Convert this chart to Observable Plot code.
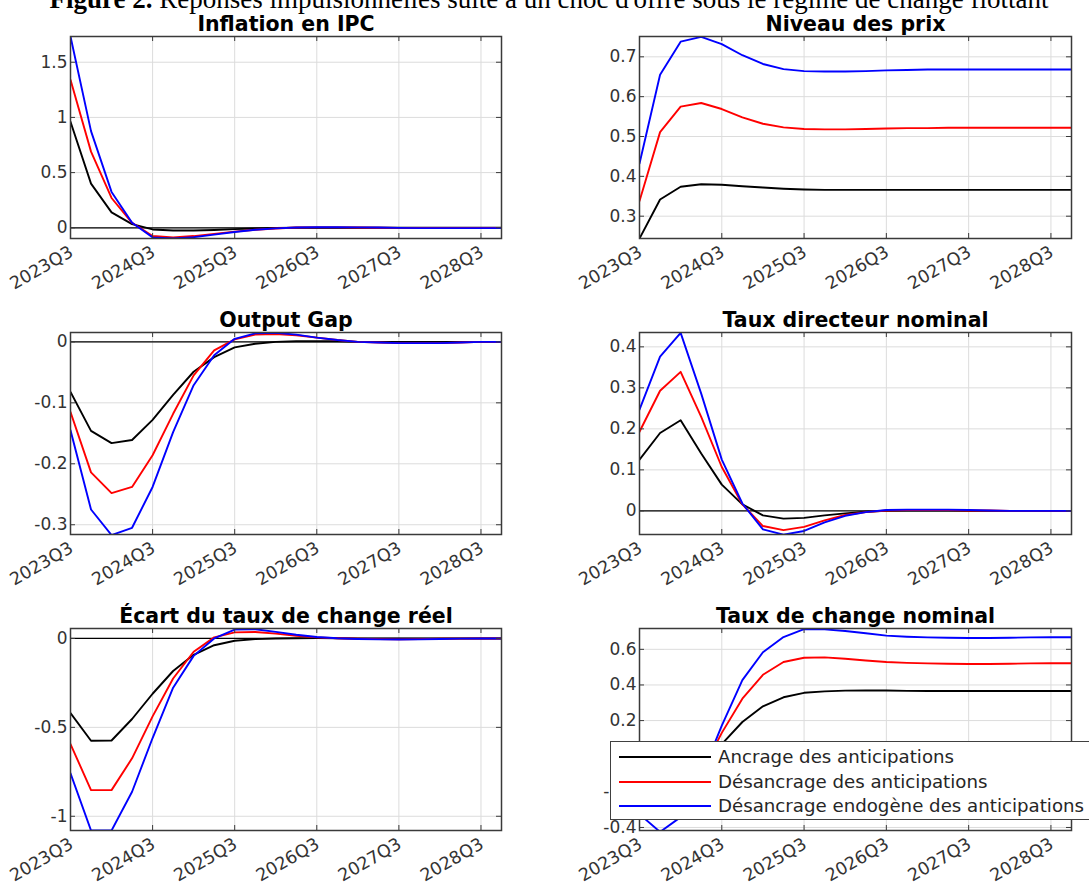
<!DOCTYPE html>
<html>
<head>
<meta charset="utf-8">
<script src="https://cdn.jsdelivr.net/npm/d3@7"></script>
<script src="https://cdn.jsdelivr.net/npm/@observablehq/plot@0.6"></script>
<style>
  html, body { margin: 0; padding: 0; background: #fff; }
  #root { position: relative; width: 1089px; height: 886px; overflow: hidden; background: #fff; }
  .panel { position: absolute; }
  #legend { position: absolute; left: 610px; top: 741px; width: 520px; height: 79px; border: 1.5px solid #404040; background: #fff; box-sizing: border-box; font-family: "DejaVu Sans", sans-serif; font-size: 18.2px; color: #262626; }
  #legend .row { position: absolute; left: 0; height: 24px; line-height: 24px; white-space: nowrap; }
  #legend .sw { position: absolute; left: 8px; top: 11px; width: 92px; height: 0; border-top: 2px solid; }
  #legend .lb { position: absolute; left: 107px; top: 0; }
</style>
</head>
<body>
<div id="root">
  <svg id="maintitle" width="1089" height="16" style="position:absolute;left:0;top:0">
    <text id="mt" x="549" y="7.5" text-anchor="middle" font-family="Liberation Serif" font-size="27" fill="#000"><tspan font-weight="bold">Figure 2.</tspan> Réponses impulsionnelles suite à un choc d'offre sous le régime de change flottant</text>
  </svg>
</div>
<script>
// ---------------- data ----------------
const quarters = ["2023Q3","2023Q4","2024Q1","2024Q2","2024Q3","2024Q4","2025Q1","2025Q2","2025Q3","2025Q4","2026Q1","2026Q2","2026Q3","2026Q4","2027Q1","2027Q2","2027Q3","2027Q4","2028Q1","2028Q2","2028Q3","2028Q4"];
const xTickLabels = ["2023Q3","2024Q3","2025Q3","2026Q3","2027Q3","2028Q3"];

const seriesNames = ["Ancrage des anticipations", "Désancrage des anticipations", "Désancrage endogène des anticipations"];
const seriesColors = ["#000000", "#ff0000", "#0000ff"];

// Inflation en IPC
const inflAncrage   = [0.96, 0.40, 0.14, 0.033, -0.015, -0.025, -0.025, -0.02, -0.012, -0.006, -0.002, 0, 0.001, 0.001, 0.001, 0, 0, 0, 0, 0, 0, 0];
const inflDesanc    = [1.34, 0.69, 0.27, 0.045, -0.075, -0.087, -0.075, -0.055, -0.035, -0.018, -0.006, 0.002, 0.004, 0.004, 0.003, 0.001, -0.001, -0.002, -0.002, -0.002, -0.002, -0.002];
const inflEndog     = [1.733, 0.876, 0.325, 0.045, -0.087, -0.097, -0.085, -0.062, -0.038, -0.018, -0.005, 0.003, 0.005, 0.005, 0.004, 0.002, -0.001, -0.003, -0.003, -0.003, -0.003, -0.003];

// Niveau des prix
const prixAncrage   = [0.244, 0.342, 0.374, 0.380, 0.379, 0.375, 0.372, 0.369, 0.367, 0.366, 0.366, 0.366, 0.366, 0.366, 0.366, 0.366, 0.366, 0.366, 0.366, 0.366, 0.366, 0.366];
const prixDesanc    = [0.338, 0.511, 0.575, 0.584, 0.569, 0.548, 0.532, 0.523, 0.519, 0.518, 0.518, 0.519, 0.520, 0.521, 0.521, 0.522, 0.522, 0.522, 0.522, 0.522, 0.522, 0.522];
const prixEndog     = [0.432, 0.655, 0.738, 0.750, 0.732, 0.704, 0.682, 0.669, 0.664, 0.663, 0.663, 0.664, 0.666, 0.667, 0.668, 0.668, 0.668, 0.668, 0.668, 0.668, 0.668, 0.668];

// Output Gap
const gapAncrage    = [-0.082, -0.146, -0.166, -0.161, -0.128, -0.087, -0.049, -0.025, -0.009, -0.003, 0.000, 0.001, 0.001, 0.001, 0.000, 0, 0, 0, 0, 0, 0, 0];
const gapDesanc     = [-0.115, -0.214, -0.248, -0.238, -0.186, -0.118, -0.055, -0.014, 0.004, 0.012, 0.013, 0.011, 0.007, 0.003, 0.000, -0.001, -0.002, -0.002, -0.002, -0.001, 0, 0];
const gapEndog      = [-0.145, -0.275, -0.317, -0.305, -0.238, -0.148, -0.071, -0.022, 0.005, 0.014, 0.015, 0.012, 0.007, 0.003, 0.000, -0.001, -0.002, -0.002, -0.002, -0.001, 0, 0];

// Taux directeur nominal
const tauxAncrage   = [0.125, 0.190, 0.221, 0.140, 0.064, 0.016, -0.011, -0.019, -0.017, -0.011, -0.006, -0.002, 0.000, 0.001, 0.001, 0.001, 0, 0, 0, 0, 0, 0];
const tauxDesanc    = [0.193, 0.293, 0.339, 0.229, 0.107, 0.016, -0.037, -0.047, -0.039, -0.023, -0.010, -0.003, 0.001, 0.002, 0.002, 0.002, 0.001, 0.001, 0, 0, 0, 0];
const tauxEndog     = [0.247, 0.376, 0.434, 0.286, 0.125, 0.018, -0.045, -0.058, -0.049, -0.028, -0.012, -0.003, 0.002, 0.003, 0.003, 0.003, 0.002, 0.001, 0, 0, 0, 0];

// Écart du taux de change réel
const reelAncrage   = [-0.419, -0.575, -0.574, -0.453, -0.311, -0.183, -0.092, -0.038, -0.013, -0.004, 0.000, 0.001, 0.002, 0.001, 0, 0, 0, 0, 0, 0, 0, 0];
const reelDesanc    = [-0.594, -0.853, -0.853, -0.674, -0.438, -0.225, -0.075, 0.006, 0.034, 0.036, 0.027, 0.015, 0.006, 0.001, -0.002, -0.004, -0.005, -0.004, -0.002, -0.001, 0, 0];
const reelEndog     = [-0.758, -1.08, -1.08, -0.862, -0.560, -0.277, -0.098, 0.000, 0.050, 0.052, 0.037, 0.021, 0.008, 0.001, -0.003, -0.005, -0.006, -0.005, -0.003, -0.001, 0, 0];

// Taux de change nominal
const nomAncrage    = [-0.175, -0.233, -0.201, -0.073, 0.068, 0.192, 0.280, 0.331, 0.356, 0.364, 0.368, 0.369, 0.369, 0.367, 0.366, 0.366, 0.366, 0.366, 0.366, 0.366, 0.366, 0.366];
const nomDesanc     = [-0.257, -0.342, -0.278, -0.090, 0.131, 0.323, 0.457, 0.529, 0.553, 0.555, 0.547, 0.537, 0.529, 0.524, 0.521, 0.519, 0.518, 0.518, 0.519, 0.521, 0.522, 0.522];
const nomEndog      = [-0.326, -0.425, -0.342, -0.112, 0.172, 0.427, 0.584, 0.669, 0.713, 0.712, 0.703, 0.690, 0.677, 0.671, 0.667, 0.665, 0.664, 0.664, 0.665, 0.667, 0.668, 0.668];

// axis settings
const xDomain = [0, 21];
const inflYDomain = [-0.097, 1.733], inflYTicks = [0, 0.5, 1, 1.5];
const prixYDomain = [0.244, 0.751],  prixYTicks = [0.3, 0.4, 0.5, 0.6, 0.7];
const gapYDomain  = [-0.316, 0.0154], gapYTicks = [-0.3, -0.2, -0.1, 0];
const tauxYDomain = [-0.0576, 0.435], tauxYTicks = [0, 0.1, 0.2, 0.3, 0.4];
const reelYDomain = [-1.08, 0.056],   reelYTicks = [-1, -0.5, 0];
const nomYDomain  = [-0.417, 0.717],  nomYTicks = [-0.4, -0.2, 0, 0.2, 0.4, 0.6];

// ---------------- drawing ----------------
const xTickIdx = xTickLabels.map(l => quarters.indexOf(l));
const root = document.getElementById("root");

function panel(title, values, yDomain, yTicks, col, row) {
  const W = col === 0 ? 545 : 544;
  const mL = col === 0 ? 70 : 94, mR = col === 0 ? 44 : 18;
  const mT = 36, mB = 58, H = 296;
  const fw = W - mL - mR, fh = H - mT - mB;
  const axisColor = "#3a3a3a";
  const marks = [
    Plot.gridX(xTickIdx, {stroke: "#dcdcdc", strokeOpacity: 1}),
    Plot.gridY(yTicks, {stroke: "#dcdcdc", strokeOpacity: 1})
  ];
  if (yDomain[0] < 0 && yDomain[1] > 0) marks.push(Plot.ruleY([0], {stroke: "#000", strokeWidth: 1.2}));
  values.forEach((v, k) => {
    marks.push(Plot.lineY(v, {x: (d, i) => i, y: d => d, stroke: seriesColors[k], strokeWidth: 1.9, clip: true}));
  });
  marks.push(
    Plot.tickX(xTickIdx, {x: d => d, insetTop: fh - 5, stroke: axisColor}),
    Plot.tickX(xTickIdx, {x: d => d, insetBottom: fh - 5, stroke: axisColor}),
    Plot.tickY(yTicks, {y: d => d, insetRight: fw - 5, stroke: axisColor}),
    Plot.tickY(yTicks, {y: d => d, insetLeft: fw - 5, stroke: axisColor}),
    Plot.frame({stroke: axisColor, strokeWidth: 1.5}),
    Plot.axisY(yTicks, {anchor: "left", tickSize: 0, tickPadding: 3, tickFormat: d => String(d), fontSize: 17, fill: "#333"}),
    Plot.axisX(xTickIdx, {anchor: "bottom", tickSize: 0, tickPadding: 4, dx: 1, dy: 8, tickRotate: -30, tickFormat: i => quarters[i], fontSize: 17.5, fill: "#333"}),
    Plot.text([title], {text: d => d, frameAnchor: "top", lineAnchor: "bottom", dy: -6, fontWeight: "bold", fontSize: 20.5, fill: "#000"})
  );
  const svg = Plot.plot({
    width: W, height: H,
    marginLeft: mL, marginRight: mR, marginTop: mT, marginBottom: mB,
    x: {domain: xDomain},
    y: {domain: yDomain},
    style: {fontFamily: "DejaVu Sans, sans-serif", fontSize: "17px", background: "transparent", overflow: "visible"},
    marks
  });
  svg.classList.add("panel");
  svg.style.left = (col === 0 ? 0 : 545) + "px";
  svg.style.top = (row * 296) + "px";
  root.appendChild(svg);
}

panel("Inflation en IPC", [inflAncrage, inflDesanc, inflEndog], inflYDomain, inflYTicks, 0, 0);
panel("Niveau des prix", [prixAncrage, prixDesanc, prixEndog], prixYDomain, prixYTicks, 1, 0);
panel("Output Gap", [gapAncrage, gapDesanc, gapEndog], gapYDomain, gapYTicks, 0, 1);
panel("Taux directeur nominal", [tauxAncrage, tauxDesanc, tauxEndog], tauxYDomain, tauxYTicks, 1, 1);
panel("Écart du taux de change réel", [reelAncrage, reelDesanc, reelEndog], reelYDomain, reelYTicks, 0, 2);
panel("Taux de change nominal", [nomAncrage, nomDesanc, nomEndog], nomYDomain, nomYTicks, 1, 2);

// legend
const legend = document.createElement("div");
legend.id = "legend";
seriesNames.forEach((name, k) => {
  const r = document.createElement("div");
  r.className = "row";
  r.style.top = (3 + k * 24.5) + "px";
  const sw = document.createElement("span");
  sw.className = "sw";
  sw.style.borderTopColor = seriesColors[k];
  const lb = document.createElement("span");
  lb.className = "lb";
  lb.textContent = name;
  r.appendChild(sw); r.appendChild(lb);
  legend.appendChild(r);
});
root.appendChild(legend);
root.appendChild(document.getElementById("maintitle"));
</script>
</body>
</html>
